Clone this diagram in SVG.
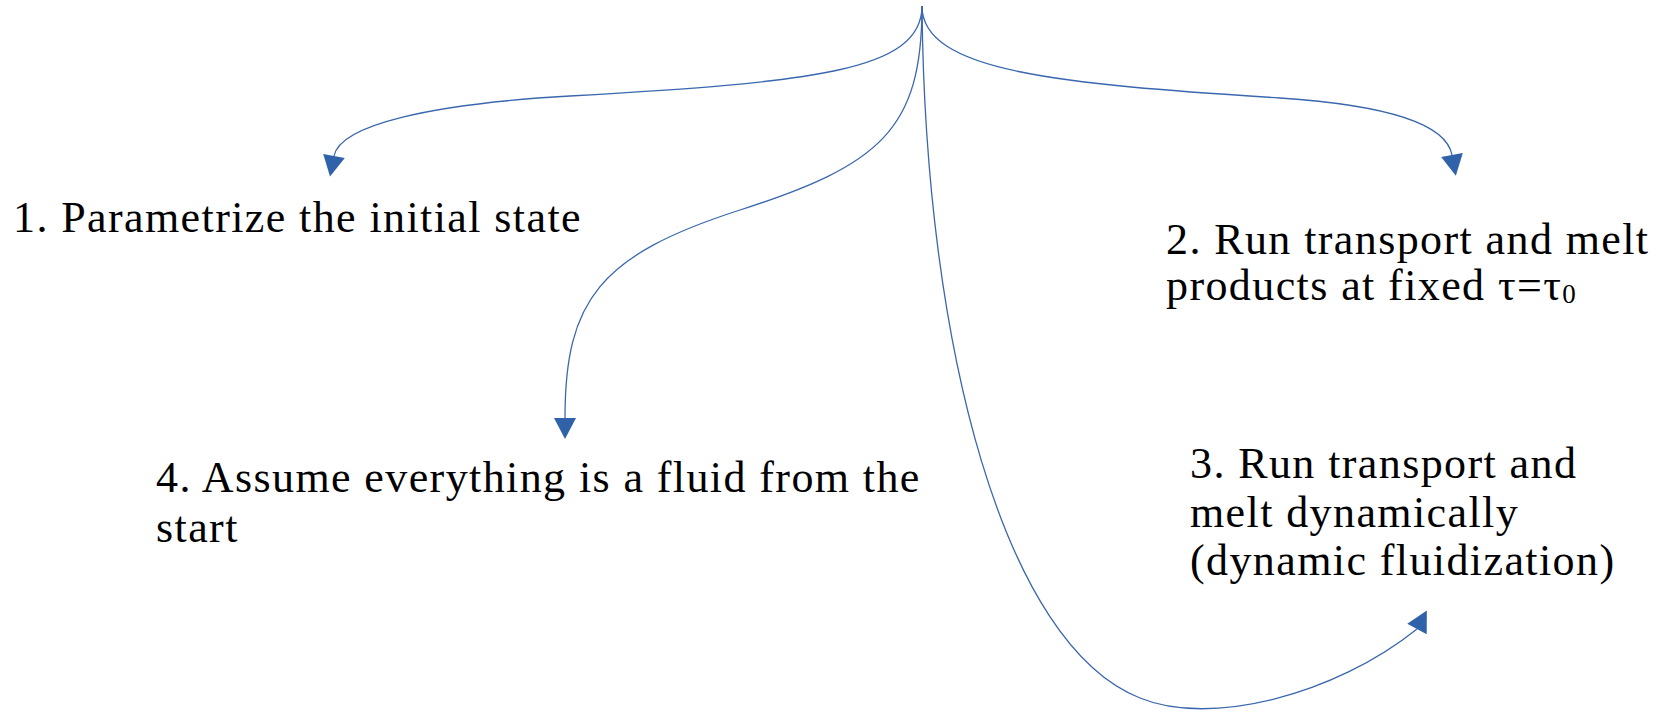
<svg xmlns="http://www.w3.org/2000/svg" width="1665" height="719" viewBox="0 0 1665 719">
  <style>
    .lbl { font-family: "Liberation Serif", "Times New Roman", serif; font-size: 44px; letter-spacing: 1.4px; fill: #000; }
    .sub { font-size: 27px; letter-spacing: 0; }
    .conn { fill: none; stroke: #3a67ad; stroke-width: 1.3; }
  </style>
  <defs>
    <marker id="ah" markerUnits="userSpaceOnUse" markerWidth="22" markerHeight="22" refX="0" refY="11" orient="auto" overflow="visible">
      <path d="M0,0 L21,11 L0,22 Z" fill="#2f62a8"/>
    </marker>
    <marker id="ah3" markerUnits="userSpaceOnUse" markerWidth="22" markerHeight="22" refX="0" refY="11" orient="-62" overflow="visible">
      <path d="M0,0 L21,11 L0,22 Z" fill="#2f62a8"/>
    </marker>
  </defs>
  <rect width="1665" height="719" fill="#ffffff"/>
  <g id="connectors">
    <path class="conn" marker-end="url(#ah)" d="M922,6 C922,72 810,82 570,96 C430,104 340,125 334,156"/>
    <path class="conn" marker-end="url(#ah)" d="M922,6 C922,72 1060,84 1280,98 C1400,106 1447,128 1452,155"/>
    <path class="conn" marker-end="url(#ah)" d="M922,6 C922,130 880,165 740,210 C600,255 565,300 565,418"/>
    <path class="conn" marker-end="url(#ah3)" d="M922,6 C925,350 1005,645 1140,698 C1210,727 1335,695 1417,629"/>
  </g>
  <g id="node1">
    <text class="lbl" x="13" y="232">1. Parametrize the initial state</text>
  </g>
  <g id="node2">
    <text class="lbl" x="1166" y="254">2. Run transport and melt</text>
    <text class="lbl" x="1166" y="300">products at fixed τ=τ<tspan class="sub" dy="3">0</tspan></text>
  </g>
  <g id="node3">
    <text class="lbl" x="1190" y="478">3. Run transport and</text>
    <text class="lbl" x="1190" y="527">melt dynamically</text>
    <text class="lbl" x="1190" y="575">(dynamic fluidization)</text>
  </g>
  <g id="node4">
    <text class="lbl" x="156" y="492">4. Assume everything is a fluid from the</text>
    <text class="lbl" x="156" y="542">start</text>
  </g>
</svg>
